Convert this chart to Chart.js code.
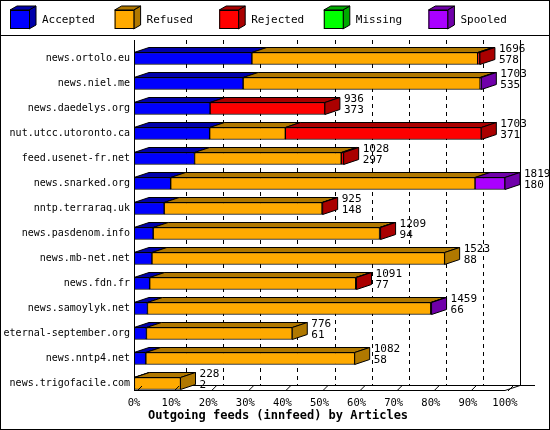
<!DOCTYPE html>
<html><head><meta charset="utf-8">
<script src="https://cdn.jsdelivr.net/npm/chart.js@4/dist/chart.umd.min.js"></script>
<style>html,body{margin:0;padding:0;background:#fff}#w{width:550px;height:430px}</style>
</head><body><div id="w"><canvas id="c"></canvas></div>
<script>
const categories=["news.ortolo.eu","news.niel.me","news.daedelys.org","nut.utcc.utoronto.ca","feed.usenet-fr.net","news.snarked.org","nntp.terraraq.uk","news.pasdenom.info","news.mb-net.net","news.fdn.fr","news.samoylyk.net","eternal-september.org","news.nntp4.net","news.trigofacile.com"];
const accepted=[578,535,373,371,297,180,148,94,88,77,66,61,58,2];
const refused=[1107,1162,0,371,719,1492,774,1110,1435,1010,1389,715,1024,226];
const rejected=[11,0,563,961,12,0,3,5,0,4,0,0,0,0];
const missing=[0,0,0,0,0,0,0,0,0,0,0,0,0,0];
const spooled=[0,6,0,0,0,147,0,0,0,0,4,0,0,0];
const totals=[1696,1703,936,1703,1028,1819,925,1209,1523,1091,1459,776,1082,228];
const tickLabels=["0%","10%","20%","30%","40%","50%","60%","70%","80%","90%","100%"];
const maxTotal=1819;

const FONT='"DejaVu Sans Mono", monospace';
const front=["#0000ff","#ffaa00","#ff0000","#00ff00","#aa00ff"];
const dark=["#0000aa","#b07800","#aa0000","#00aa00","#7000aa"];
const names=["Accepted","Refused","Rejected","Missing","Spooled"];
const series=[accepted,refused,rejected,missing,spooled];
const D=15, DY=5;

const plugin={
 id:'threeD',
 beforeDraw(ch){const c=ch.ctx;c.save();c.fillStyle='#fff';c.fillRect(0,0,550,430);c.restore();},
 beforeDatasetsDraw(ch){
  const c=ch.ctx,x=ch.scales.x;c.save();
  c.strokeStyle='#000';c.lineWidth=1;
  c.setLineDash([4,4]);
  for(let i=1;i<=10;i++){const px=Math.round(x.getPixelForValue(maxTotal*i/10))+D+0.5;
   c.beginPath();c.moveTo(px,40);c.lineTo(px,385);c.stroke();}
  c.setLineDash([]);
  const r=Math.round(x.getPixelForValue(maxTotal))+D+0.5;
  c.beginPath();c.moveTo(r,40);c.lineTo(r,385.5);c.stroke();
  c.beginPath();c.moveTo(134,385.5);c.lineTo(535,385.5);c.stroke();
  c.restore();
 },
 afterDatasetsDraw(ch){
  const c=ch.ctx,x=ch.scales.x,y=ch.scales.y;c.save();c.lineWidth=1;c.strokeStyle='#000';
  const n=categories.length;
  c.font='10px '+FONT;c.fillStyle='#000';c.textAlign='right';c.textBaseline='middle';
  for(let i=0;i<n;i++)c.fillText(categories[i],130,y.getPixelForValue(i));
  for(let i=0;i<n;i++){
   let last=-1;
   for(let d=0;d<5;d++){
    const el=ch.getDatasetMeta(d).data[i];if(series[d][i]<=0)continue;
    const top=el.y-el.height/2,l=el.base,rr=el.x;
    c.fillStyle=dark[d];c.beginPath();c.moveTo(l,top);c.lineTo(l+D,top-DY);c.lineTo(rr+D,top-DY);c.lineTo(rr,top);c.closePath();c.fill();c.stroke();
    last=d;
   }
   if(last>=0){const el=ch.getDatasetMeta(last).data[i];const top=el.y-el.height/2,bot=el.y+el.height/2,rr=el.x;
    c.fillStyle=dark[last];c.beginPath();c.moveTo(rr,top);c.lineTo(rr+D,top-DY);c.lineTo(rr+D,bot-DY);c.lineTo(rr,bot);c.closePath();c.fill();c.stroke();
    c.fillStyle='#000';c.font='11px '+FONT;c.textAlign='left';c.textBaseline='middle';
    c.fillText(String(totals[i]),rr+D+4,el.y-9);c.fillText(String(accepted[i]),rr+D+4,el.y+2);}
  }
  c.beginPath();c.moveTo(134.5,40);c.lineTo(134.5,391);c.stroke();
  const r=Math.round(x.getPixelForValue(maxTotal));
  c.beginPath();c.moveTo(134,390.5);c.lineTo(r,390.5);c.lineTo(r+D,385.5);c.stroke();
  c.font='10.5px '+FONT;c.fillStyle='#000';c.textAlign='center';c.textBaseline='middle';
  for(let i=0;i<=10;i++){const px=x.getPixelForValue(maxTotal*i/10);
   c.beginPath();c.moveTo(px+3,391);c.lineTo(px+8,386);c.stroke();
   c.fillText(tickLabels[i],px,403);}
  c.font='bold 12px '+FONT;c.textAlign='left';c.fillText('Outgoing feeds (innfeed) by Articles',148,416);
  c.font='11px '+FONT;c.textBaseline='middle';
  for(let d=0;d<5;d++){const bx=10+d*104.6;
   c.fillStyle=dark[d];c.beginPath();c.moveTo(bx+19,10);c.lineTo(bx+26,6);c.lineTo(bx+26,25);c.lineTo(bx+19,29);c.closePath();c.fill();c.stroke();
   c.beginPath();c.moveTo(bx,10);c.lineTo(bx+7,6);c.lineTo(bx+26,6);c.lineTo(bx+19,10);c.closePath();c.fill();c.stroke();
   c.fillStyle=front[d];c.fillRect(bx,10,19,19);c.strokeRect(bx+0.5,10.5,19,18);
   c.fillStyle='#000';c.fillText(names[d],bx+32,20);}
  c.beginPath();c.moveTo(0,35.5);c.lineTo(550,35.5);c.stroke();
  c.strokeRect(0.5,0.5,549,429);
  c.restore();
 }
};

new Chart(document.getElementById('c'),{
 type:'bar',
 data:{labels:categories,datasets:series.map((s,d)=>({label:names[d],data:s,backgroundColor:front[d],borderColor:'#000',borderWidth:1,borderSkipped:false,barThickness:12}))},
 options:{indexAxis:'y',responsive:true,maintainAspectRatio:false,animation:false,devicePixelRatio:1,
  layout:{padding:{top:46,bottom:34,left:134,right:45}},
  plugins:{legend:{display:false},tooltip:{enabled:false}},
  scales:{
   x:{stacked:true,min:0,max:maxTotal,display:false},
   y:{stacked:true,display:false}
  }},
 plugins:[plugin]
});
</script></body></html>
